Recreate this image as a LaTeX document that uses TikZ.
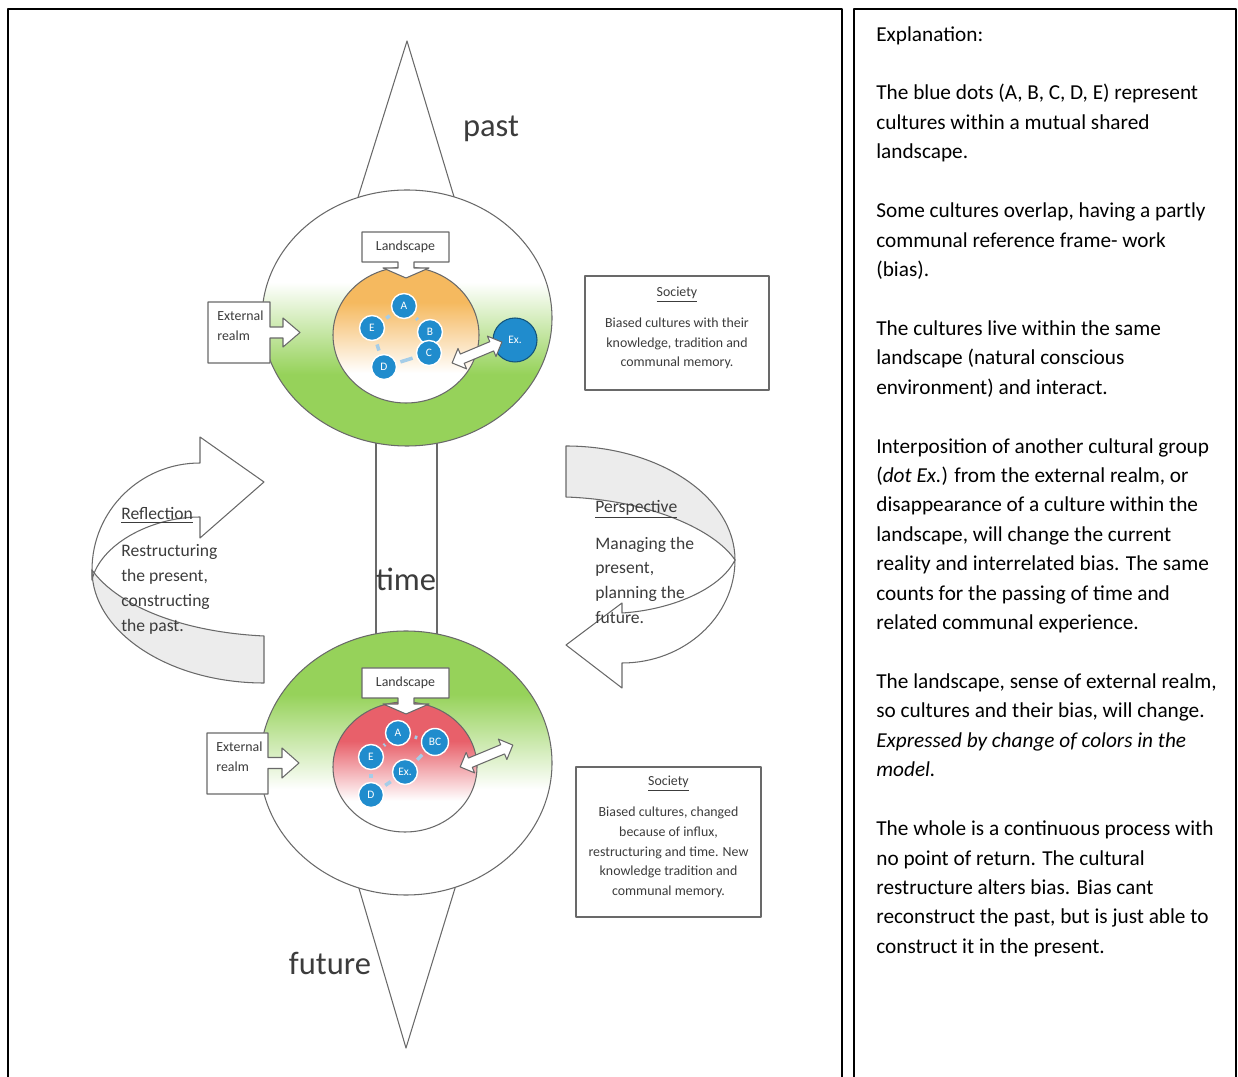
\documentclass[tikz,border=0pt]{standalone}
\usepackage{fontspec}
\setmainfont{Carlito}
\usetikzlibrary{shapes.arrows}
\definecolor{leafgreen}{RGB}{150,210,90}
\definecolor{sunorange}{RGB}{245,185,95}
\definecolor{rosered}{RGB}{232,96,106}
\definecolor{dotblue}{RGB}{32,140,205}
\definecolor{linkblue}{RGB}{165,205,232}
\definecolor{edgegray}{RGB}{105,105,105}
\definecolor{inkgray}{RGB}{60,60,60}
\definecolor{ribbongray}{RGB}{236,236,236}
\pgfdeclareverticalshading{greenlow}{100bp}{color(0bp)=(leafgreen); color(39bp)=(leafgreen); color(57bp)=(white); color(100bp)=(white)}
\pgfdeclareverticalshading{greenhigh}{100bp}{color(0bp)=(white); color(45bp)=(white); color(63bp)=(leafgreen); color(100bp)=(leafgreen)}
\pgfdeclareverticalshading{orangehigh}{100bp}{color(0bp)=(white); color(36bp)=(white); color(62bp)=(sunorange); color(100bp)=(sunorange)}
\pgfdeclareverticalshading{redhigh}{100bp}{color(0bp)=(white); color(37bp)=(white); color(60bp)=(rosered); color(100bp)=(rosered)}
\begin{document}
\begin{tikzpicture}[x=0.02cm, y=-0.02cm, line join=round]
	\tikzset{outline/.style={draw=edgegray, line width=0.6pt},
		callout/.style={outline, fill=white},
		smalltxt/.style={font=\fontsize{7.9}{11.3}\selectfont, text=inkgray, inner sep=0pt},
		notetxt/.style={font=\fontsize{10}{14.2}\selectfont, text=inkgray, align=left, inner sep=0pt},
		bigword/.style={font=\fontsize{18.5}{22}\selectfont, text=inkgray, inner sep=0pt, anchor=base},
		culture/.style={circle, fill=dotblue, draw=white, line width=0.8pt, minimum size=0.5cm, inner sep=0pt, text=white, font=\fontsize{6.5}{7}\selectfont},
		overlap/.style={draw=linkblue, line width=2pt, shorten <=0.08cm, shorten >=0.08cm},
		xarrow/.style={double arrow, callout, inner sep=0.09cm, double arrow head extend=0.12cm, sloped}}
	\useasboundingbox (0,0) rectangle (1238,1077);
	\draw[line width=1.2pt] (8,1085)--(8,9)--(842,9)--(842,1085);
	\draw[line width=1.2pt] (854,1085)--(854,9)--(1236,9)--(1236,1085);
	\draw[callout] (376,440) rectangle (437,636);
	\draw[callout] (354,210)--(407,41)--(458,210)--cycle;
	\draw[callout] (358,885)--(406,1048)--(456,885)--cycle;
	\shadedraw[shading=greenlow, outline] (407,318) ellipse [x radius=145, y radius=128];
	\shadedraw[shading=greenhigh, outline] (406,763) ellipse [x radius=146, y radius=132];
	\shadedraw[shading=orangehigh, outline] (406,335) ellipse [x radius=73, y radius=68];
	\shadedraw[shading=redhigh, outline] (405,767) ellipse [x radius=72, y radius=65];
	\draw[callout] (362,232)--(449,232)--(449,262)--(414,262)--(414,268)--(429,268)--(406,278)--(383,268)--(398,268)--(398,262)--(362,262)--cycle;
	\draw[callout] (362,668)--(449,668)--(449,698)--(414,698)--(414,704)--(429,704)--(406,714)--(383,704)--(398,704)--(398,698)--(362,698)--cycle;
	\draw[callout] (208,302)--(270,302)--(270,327)--(283,327)--(283,318)--(300,332.5)--(283,347)--(283,338)--(270,338)--(270,363)--(208,363)--cycle;
	\draw[callout] (207,733)--(268,733)--(268,757.5)--(282,757.5)--(282,748)--(299,763)--(282,778)--(282,768.5)--(268,768.5)--(268,794)--(207,794)--cycle;
	\node[smalltxt] (landTop) at (405.5,247) {Landscape};
	\node[smalltxt] (landLow) at (405.5,683) {Landscape};
	\node[smalltxt, align=left, anchor=west] (extTop) at (217,326) {External\\realm};
	\node[smalltxt, align=left, anchor=west] (extLow) at (216,757) {External\\realm};
	\node[culture] (A1) at (404,306) {A};
	\node[culture] (E1) at (372,328) {E};
	\node[culture] (B1) at (430,332) {B};
	\node[culture] (C1) at (429,353) {C};
	\node[culture] (D1) at (384,367) {D};
	\node[culture, minimum size=0.88cm, draw=dotblue!60!black, line width=0.6pt] (X1) at (515,340) {Ex.};
	\foreach \p/\q in {A1/B1,A1/E1,E1/D1,D1/C1}
	\draw[overlap] (\p)--(\q);
	\node[culture] (A2) at (398,733) {A};
	\node[culture, minimum size=0.54cm] (BC2) at (435,742) {BC};
	\node[culture] (E2) at (371,757) {E};
	\node[culture] (X2) at (405,772) {Ex.};
	\node[culture] (D2) at (371,795) {D};
	\foreach \p/\q in {A2/E2,A2/BC2,BC2/X2,E2/D2,D2/X2}
	\draw[overlap] (\p)--(\q);
	\coordinate (inTop) at (452,363);
	\coordinate (outTop) at (502,342);
	\coordinate (inLow) at (460,767);
	\coordinate (outLow) at (513,745);
	\path (inTop)--node[xarrow, minimum height=1.08cm] (swapTop) {} (outTop);
	\path (inLow)--node[xarrow, minimum height=1.14cm] (swapLow) {} (outLow);
	\draw[outline] (585,276) rectangle (769,390);
	\node[smalltxt, align=center] (socTop) at (677,328) {\underline{Society}\\[6.3pt]Biased cultures with their\\knowledge, tradition and\\communal memory.};
	\draw[outline] (576,767) rectangle (761,917);
	\node[smalltxt, align=center] (socLow) at (668.5,837) {\underline{Society}\\[6.3pt]Biased cultures, changed\\because of influx,\\restructuring and time. New\\knowledge tradition and\\communal memory.};
	\draw[outline, fill=ribbongray] (92,570) .. controls (117,605) and (180,632) .. (264,636)--(264,683) .. controls (169,683) and (92,632) .. (92,570)--cycle;
	\draw[outline] (200,437)--(264,482)--(200,538)--(200,517) .. controls (150,517) and (100,545) .. (92,580)--(92,570) .. controls (92,511) and (140,463) .. (200,463)--cycle;
	\draw[outline, fill=ribbongray] (566,446) .. controls (659,446) and (735,497) .. (735,560) .. controls (715,530) and (650,500) .. (566,497)--cycle;
	\draw[outline] (735,560) .. controls (735,617) and (684,663) .. (622,663)--(622,688)--(566,645)--(622,603)--(622,613) .. controls (670,610) and (720,590) .. (735,560)--cycle;
	\node[notetxt, anchor=west] (refl) at (121,571) {\underline{Reflection}\\[6.8pt]Restructuring\\the present,\\constructing\\the past.};
	\node[notetxt, anchor=west] (persp) at (595,562) {\underline{Perspective}\\[6.8pt]Managing the\\present,\\planning the\\future.};
	\node[bigword] (past) at (491,137) {past};
	\node[bigword] (time) at (406,591) {time};
	\node[bigword] (future) at (330,974) {future};
	\node[anchor=north west, align=left, inner sep=0pt, font=\fontsize{12.1}{16.75}\selectfont] (expl) at (876,26) {Explanation:\\[16.75pt]
		The blue dots (A, B, C, D, E) represent\\cultures within a mutual shared\\landscape.\\[16.75pt]
		Some cultures overlap, having a partly\\communal reference frame- work\\(bias).\\[16.75pt]
		The cultures live within the same\\landscape (natural conscious\\environment) and interact.\\[16.75pt]
		Interposition of another cultural group\\(\textit{dot Ex.}) from the external realm, or\\disappearance of a culture within the\\landscape, will change the current\\reality and interrelated bias. The same\\counts for the passing of time and\\related communal experience.\\[16.75pt]
		The landscape, sense of external realm,\\so cultures and their bias, will change.\\\textit{Expressed by change of colors in the}\\\textit{model.}\\[16.75pt]
		The whole is a continuous process with\\no point of return. The cultural\\restructure alters bias. Bias cant\\reconstruct the past, but is just able to\\construct it in the present.};
\end{tikzpicture}
\end{document}
